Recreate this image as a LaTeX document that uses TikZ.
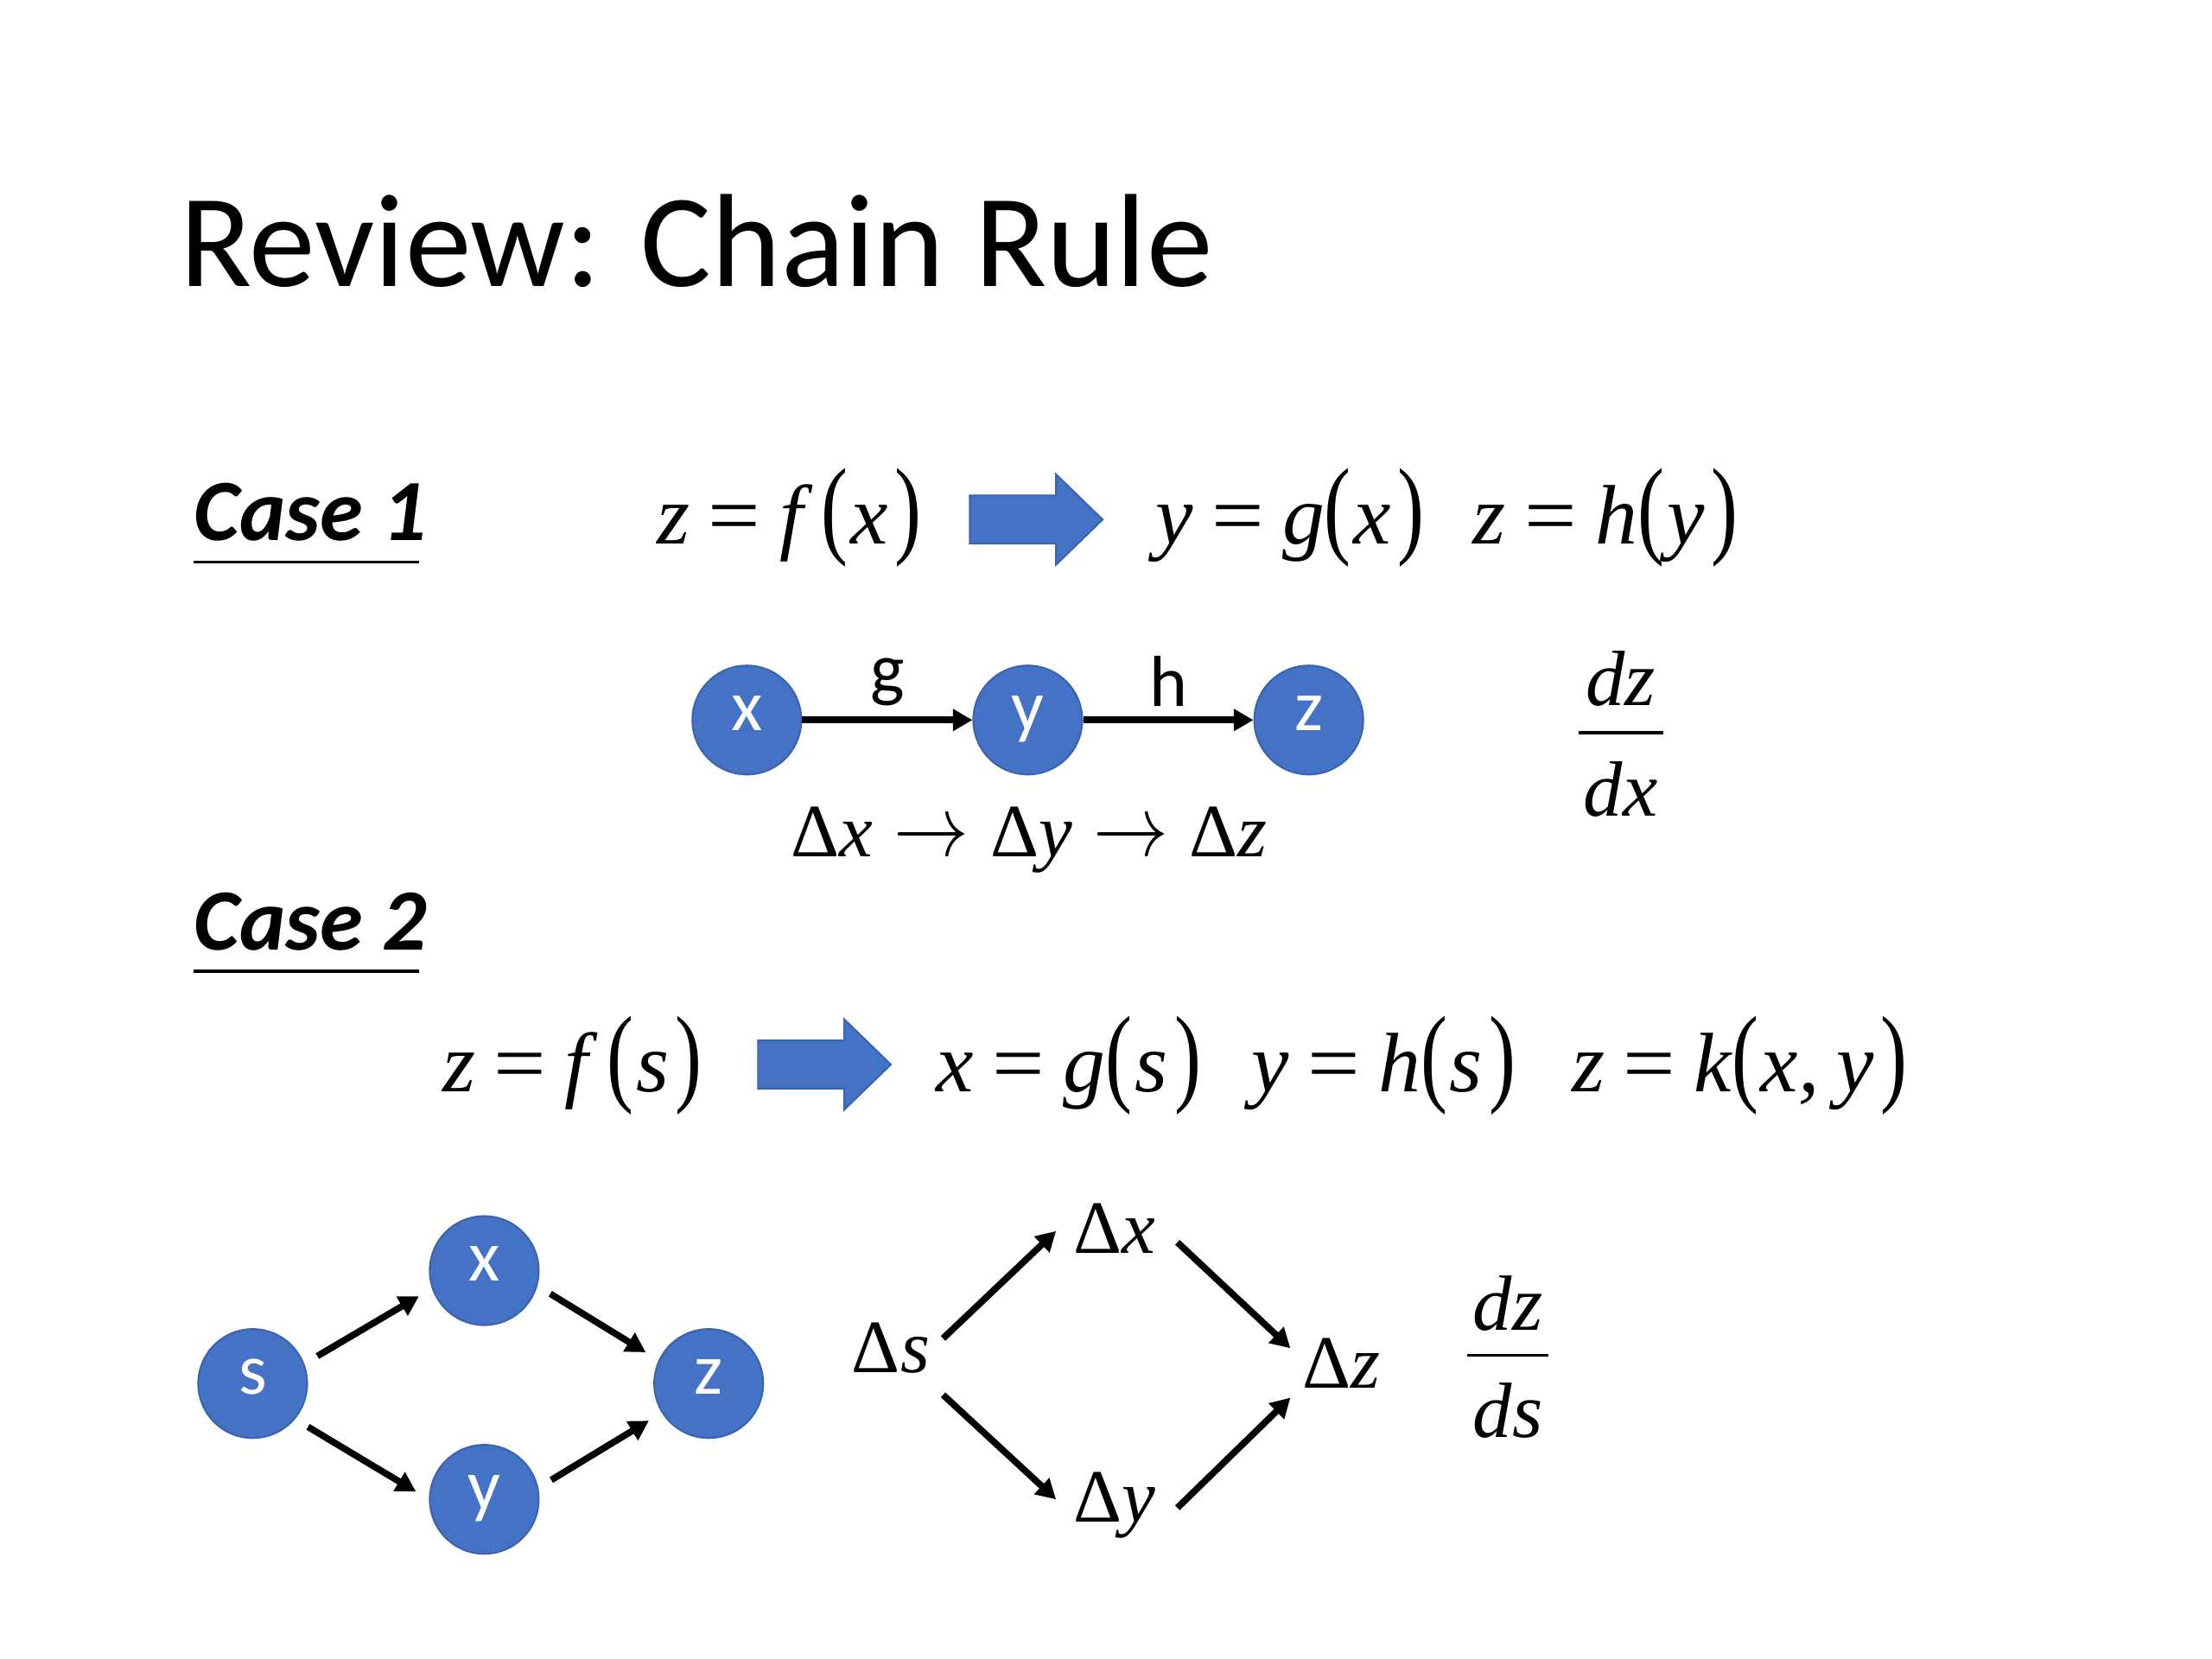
\documentclass[tikz,border=0pt]{standalone}
\usepackage{fontspec}
\setmainfont{Carlito}
\newfontfamily\tnr{Liberation Serif}
\usetikzlibrary{arrows.meta,calc}
\definecolor{nodeblue}{HTML}{4472C4}
\definecolor{edgeblue}{HTML}{3B64AD}
\newcommand\lpar{{\upshape\scalebox{0.95}[1.29]{(}}\hspace{0.03em}}
\newcommand\rpar{\hspace{0.08em}{\upshape\scalebox{0.95}[1.29]{)}}}
\newcommand\eqsign{\hspace{0.22em}{\upshape\scalebox{1.1}[1]{=}}\hspace{0.22em}}
\newcommand\fgap{\hspace{0.22em}}
\newcommand\tarrow{\hspace{0.28em}\raisebox{0.02em}{\scalebox{1}[1.15]{$\rightarrow$}}\hspace{0.28em}}
\begin{document}
\begin{tikzpicture}[x=0.016467cm,y=-0.016467cm,
  vert/.style={circle,fill=nodeblue,draw=edgeblue,line width=0.6pt,minimum size=1.27cm,inner sep=0pt,
    text=white,font=\fontsize{24}{28}\selectfont,text height=1.45ex,text depth=0pt},
  lbl/.style={inner sep=0pt,anchor=base west},
  casetitle/.style={inner sep=0pt,anchor=base west,font=\bfseries\itshape\fontsize{29}{34}\selectfont},
  eqn/.style={inner sep=0pt,anchor=base west,font=\tnr\itshape\fontsize{28}{32}\selectfont},
  dlt/.style={inner sep=0pt,anchor=base west,font=\tnr\fontsize{25}{30}\selectfont},
  frac/.style={inner sep=0pt,anchor=base,font=\tnr\itshape\fontsize{26}{30}\selectfont},
  conn/.style={line width=2.2pt,-{Triangle[length=6.5pt,width=7pt]}},
  blockarrow/.style={fill=nodeblue,draw=edgeblue,line width=0.6pt},
  edgelabel/.style={midway,above=3.5pt,text=black,font=\fontsize{24}{28}\selectfont,inner sep=0pt},
  bar/.style={line width=1pt},
  ]
\fill[white] (0,0) rectangle (1566.8,1175.1);
\useasboundingbox (0,0) rectangle (1566.8,1175.1);

% title
\node[lbl,font=\fontsize{44}{52}\selectfont] (title) at (127,203) {Review: Chain Rule};

% ---------- Case 1 ----------
\node[casetitle] (case1) at (137,383) {Case 1};
\draw[bar] (case1.base west) ++(0,15) -- ++(160,0);

\node[eqn] (e1) at (465,385) {z\eqsign f\fgap\lpar x\rpar};
\draw[blockarrow] (687,351) -- (748,351) -- (748,336) -- (781,368) -- (748,400) -- (748,385) -- (687,385) -- cycle;
\node[eqn] (e2) at (818,385) {y\eqsign g\lpar x\rpar};
\node[eqn] (e3) at (1043,385) {z\eqsign h\lpar y\rpar};

\node[vert] (x1) at (529,510) {x};
\node[vert] (y1) at (728,510) {y};
\node[vert] (z1) at (927,510) {z};
\draw[conn] (x1) -- (y1) node[edgelabel] (g) {g};
\draw[conn] (y1) -- (z1) node[edgelabel] (h) {h};

\node[dlt] (chain) at (560,607) {Δ\textit{x}\tarrow Δ\textit{y}\tarrow Δ\textit{z}};

\node[frac] (dz1) at (1148,500) {dz};
\node[frac] (dx1) at (1148,578) {dx};
\draw[bar] ($(dz1.base)+(-30,19)$) -- ($(dz1.base)+(30,19)$);

% ---------- Case 2 ----------
\node[casetitle] (case2) at (137,673) {Case 2};
\draw[bar] (case2.base west) ++(0,15) -- ++(160,0);

\node[eqn] (f1) at (313,773) {z\eqsign f\fgap\lpar s\rpar};
\draw[blockarrow] (537,737) -- (598,737) -- (598,722) -- (631,754) -- (598,786) -- (598,771) -- (537,771) -- cycle;
\node[eqn] (f2) at (663,773) {x\eqsign g\lpar s\rpar};
\node[eqn] (f3) at (886,773) {y\eqsign h\lpar s\rpar};
\node[eqn] (f4) at (1113,773) {z\eqsign k\lpar x,\hspace{0.2em}y\rpar};

\node[vert] (s2) at (179,980) {s};
\node[vert] (x2) at (343,900) {x};
\node[vert] (y2) at (343,1062) {y};
\node[vert] (z2) at (502,980) {z};
\draw[conn,shorten <=5pt,shorten >=5pt] (s2.21) -- (x2.199);
\draw[conn,shorten <=5pt,shorten >=5pt] (x2.344) -- (z2.155);
\draw[conn,shorten <=5pt,shorten >=5pt] (s2.320) -- (y2.180);
\draw[conn,shorten <=5pt,shorten >=5pt] (y2.12) -- (z2.212);

\node[dlt] (ds) at (603,972) {Δ\textit{s}};
\node[dlt] (dx) at (760,888) {Δ\textit{x}};
\node[dlt] (dy) at (760,1078) {Δ\textit{y}};
\node[dlt] (dzz) at (922,983) {Δ\textit{z}};
\draw[conn] ($(ds.base west)+(65,-24)$) -- ($(dx.base west)+(-12,-16)$);
\draw[conn] ($(dx.base west)+(74,-8)$) -- ($(dzz.base west)+(-8,-28)$);
\draw[conn] ($(ds.base west)+(65,16)$) -- ($(dy.base west)+(-12,-16)$);
\draw[conn] ($(dy.base west)+(74,-10)$) -- ($(dzz.base west)+(-8,7)$);

\node[frac] (dz2) at (1068,942) {dz};
\node[frac] (ds2) at (1068,1018) {ds};
\draw[bar] ($(dz2.base)+(-29,18)$) -- ($(dz2.base)+(29,18)$);
\end{tikzpicture}
\end{document}
